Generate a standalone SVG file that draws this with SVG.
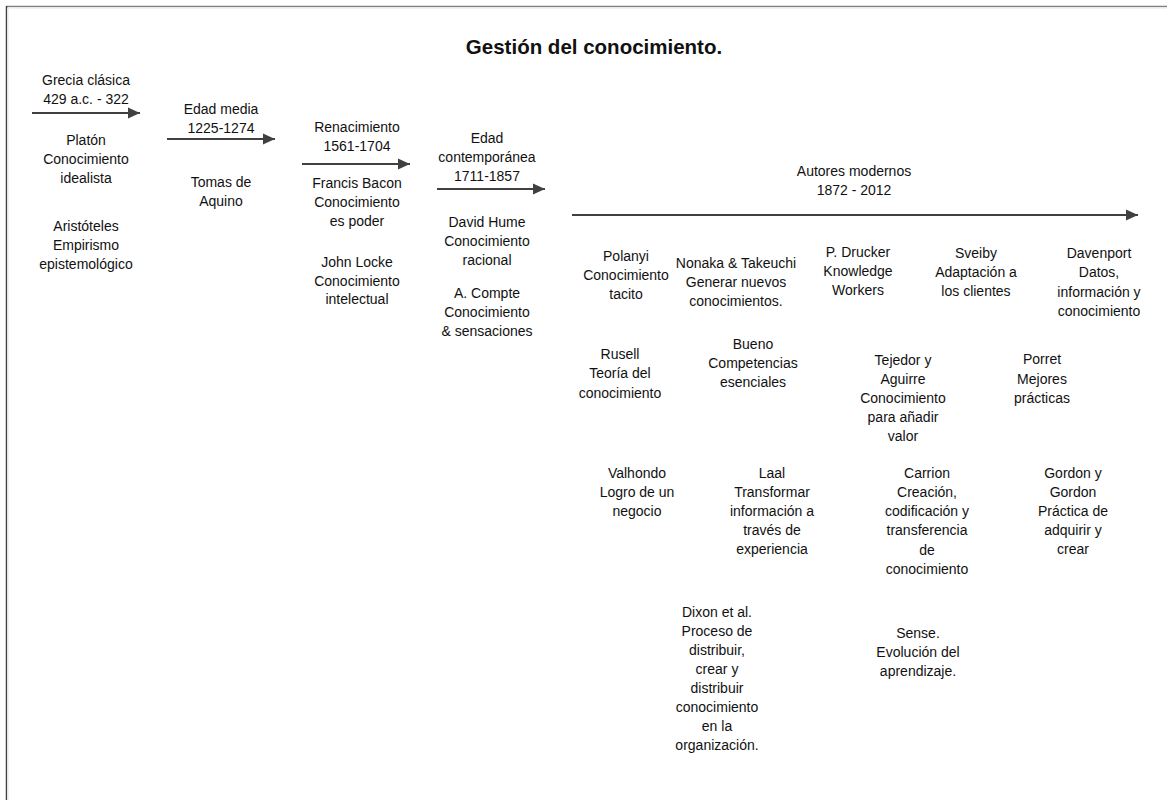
<svg xmlns="http://www.w3.org/2000/svg" width="1167" height="800" viewBox="0 0 1167 800">
<defs>
<marker id="ah" markerUnits="userSpaceOnUse" markerWidth="13" markerHeight="13" refX="12" refY="6" orient="auto">
<path d="M0,0.5 L12,6 L0,11.5 z" fill="#404040"/>
</marker>
<style>
text{font-family:"Liberation Sans",Arial,sans-serif;font-size:14px;fill:#111;text-anchor:middle}
.title{font-size:20.5px;font-weight:bold}
.arr{stroke:#404040;stroke-width:2;fill:none;marker-end:url(#ah)}
</style>
</defs>
<rect width="1167" height="800" fill="#fff"/>
<g id="frame">
<line x1="6" y1="6.5" x2="1167" y2="6.5" stroke="#808080" stroke-width="1.5"/>
<line x1="6.5" y1="6" x2="6.5" y2="800" stroke="#404040" stroke-width="1.5"/>
<line x1="8" y1="8" x2="1167" y2="8" stroke="#eeeeee" stroke-width="1.5"/>
<line x1="8" y1="8" x2="8" y2="800" stroke="#eeeeee" stroke-width="1.5"/>
</g>
<g id="title"><text class="title" x="594" y="54">Gestión del conocimiento.</text></g>
<g id="connectors">
<line class="arr" x1="32" y1="113" x2="140" y2="113"/>
<line class="arr" x1="167" y1="139" x2="275" y2="139"/>
<line class="arr" x1="302" y1="164" x2="410" y2="164"/>
<line class="arr" x1="437" y1="189" x2="545" y2="189"/>
<line class="arr" x1="572" y1="215" x2="1138" y2="215"/>
</g>
<g id="grecia"><text x="86" y="85">Grecia clásica<tspan x="86" dy="19">429 a.c. - 322</tspan></text></g>
<g id="platon"><text x="86" y="145">Platón<tspan x="86" dy="19">Conocimiento</tspan><tspan x="86" dy="19">idealista</tspan></text></g>
<g id="aristoteles"><text x="86" y="231">Aristóteles<tspan x="86" dy="19">Empirismo</tspan><tspan x="86" dy="19">epistemológico</tspan></text></g>
<g id="edadmedia"><text x="221" y="114">Edad media<tspan x="221" dy="19">1225-1274</tspan></text></g>
<g id="tomas"><text x="221" y="187">Tomas de<tspan x="221" dy="18.5">Aquino</tspan></text></g>
<g id="renacimiento"><text x="357" y="132">Renacimiento<tspan x="357" dy="19">1561-1704</tspan></text></g>
<g id="bacon"><text x="357" y="188">Francis Bacon<tspan x="357" dy="19">Conocimiento</tspan><tspan x="357" dy="19">es poder</tspan></text></g>
<g id="locke"><text x="357" y="267">John Locke<tspan x="357" dy="18.5">Conocimiento</tspan><tspan x="357" dy="18.5">intelectual</tspan></text></g>
<g id="contemporanea"><text x="487" y="143">Edad<tspan x="487" dy="19">contemporánea</tspan><tspan x="487" dy="19">1711-1857</tspan></text></g>
<g id="hume"><text x="487" y="227">David Hume<tspan x="487" dy="19">Conocimiento</tspan><tspan x="487" dy="19">racional</tspan></text></g>
<g id="compte"><text x="487" y="298">A. Compte<tspan x="487" dy="19">Conocimiento</tspan><tspan x="487" dy="19">&amp; sensaciones</tspan></text></g>
<g id="modernos"><text x="854" y="176">Autores modernos<tspan x="854" dy="18.5">1872 - 2012</tspan></text></g>
<g id="polanyi"><text x="626" y="261">Polanyi<tspan x="626" dy="19">Conocimiento</tspan><tspan x="626" dy="19">tacito</tspan></text></g>
<g id="nonaka"><text x="736" y="268">Nonaka &amp; Takeuchi<tspan x="736" dy="19">Generar nuevos</tspan><tspan x="736" dy="19">conocimientos.</tspan></text></g>
<g id="drucker"><text x="858" y="257">P. Drucker<tspan x="858" dy="19">Knowledge</tspan><tspan x="858" dy="19">Workers</tspan></text></g>
<g id="sveiby"><text x="976" y="258">Sveiby<tspan x="976" dy="19">Adaptación a</tspan><tspan x="976" dy="19">los clientes</tspan></text></g>
<g id="davenport"><text x="1099" y="258">Davenport<tspan x="1099" dy="19">Datos,</tspan><tspan x="1099" dy="19.5">información y</tspan><tspan x="1099" dy="19.5">conocimiento</tspan></text></g>
<g id="rusell"><text x="620" y="359">Rusell<tspan x="620" dy="19">Teoría del</tspan><tspan x="620" dy="19.5">conocimiento</tspan></text></g>
<g id="bueno"><text x="753" y="349">Bueno<tspan x="753" dy="19">Competencias</tspan><tspan x="753" dy="19">esenciales</tspan></text></g>
<g id="tejedor"><text x="903" y="365">Tejedor y<tspan x="903" dy="19">Aguirre</tspan><tspan x="903" dy="19">Conocimiento</tspan><tspan x="903" dy="19">para añadir</tspan><tspan x="903" dy="19">valor</tspan></text></g>
<g id="porret"><text x="1042" y="364">Porret<tspan x="1042" dy="19.5">Mejores</tspan><tspan x="1042" dy="19">prácticas</tspan></text></g>
<g id="valhondo"><text x="637" y="478">Valhondo<tspan x="637" dy="19">Logro de un</tspan><tspan x="637" dy="18.5">negocio</tspan></text></g>
<g id="laal"><text x="772" y="478">Laal<tspan x="772" dy="19">Transformar</tspan><tspan x="772" dy="19">información a</tspan><tspan x="772" dy="19">través de</tspan><tspan x="772" dy="19">experiencia</tspan></text></g>
<g id="carrion"><text x="927" y="478">Carrion<tspan x="927" dy="19">Creación,</tspan><tspan x="927" dy="19">codificación y</tspan><tspan x="927" dy="19">transferencia</tspan><tspan x="927" dy="20">de</tspan><tspan x="927" dy="19">conocimiento</tspan></text></g>
<g id="gordon"><text x="1073" y="478">Gordon y<tspan x="1073" dy="19">Gordon</tspan><tspan x="1073" dy="19">Práctica de</tspan><tspan x="1073" dy="19">adquirir y</tspan><tspan x="1073" dy="19">crear</tspan></text></g>
<g id="dixon"><text x="717" y="617">Dixon et al.<tspan x="717" dy="19">Proceso de</tspan><tspan x="717" dy="19">distribuir,</tspan><tspan x="717" dy="19">crear y</tspan><tspan x="717" dy="19">distribuir</tspan><tspan x="717" dy="19">conocimiento</tspan><tspan x="717" dy="19">en la</tspan><tspan x="717" dy="19">organización.</tspan></text></g>
<g id="sense"><text x="918" y="638">Sense.<tspan x="918" dy="19">Evolución del</tspan><tspan x="918" dy="19">aprendizaje.</tspan></text></g>
</svg>
